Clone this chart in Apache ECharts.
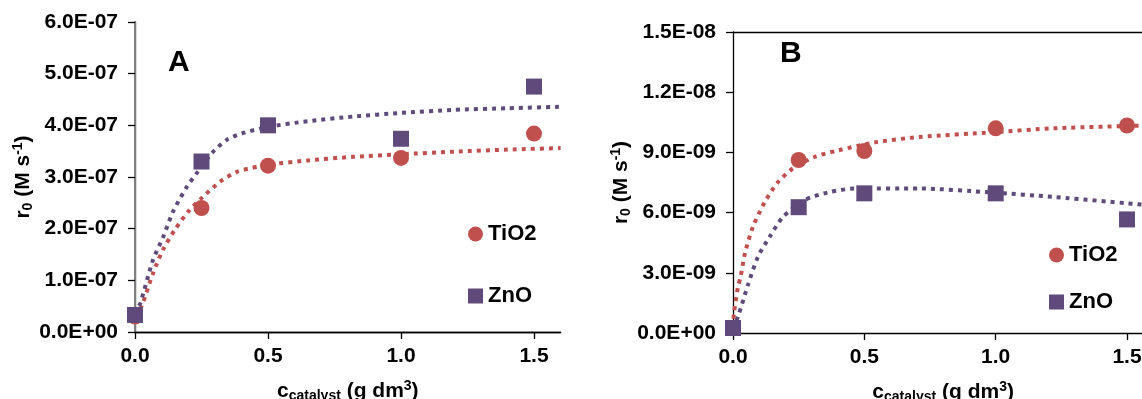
<!DOCTYPE html>
<html>
<head>
<meta charset="utf-8">
<script src="https://cdn.jsdelivr.net/npm/echarts@6/dist/echarts.min.js"></script>
<style>
html,body{margin:0;padding:0;background:#fff;}
#chart{width:1142px;height:399px;}
</style>
</head>
<body>
<div id="chart"></div>
<script>
// ---------- DATA ----------
var seriesNames = ['TiO2', 'ZnO'];
var xTicks = [0, 0.5, 1.0, 1.5];

// Panel A measured points (M s^-1)
var aCat = [0, 0.25, 0.5, 1.0, 1.5];
var aTiO2 = [0.30e-7, 2.40e-7, 3.22e-7, 3.37e-7, 3.84e-7];
var aZnO  = [0.33e-7, 3.30e-7, 4.00e-7, 3.74e-7, 4.75e-7];

// Panel A trend lines
var aFitTiO2X = [0, 0.026, 0.068, 0.105, 0.15, 0.2, 0.252, 0.32, 0.383, 0.46, 0.5, 0.65, 0.82, 1.0, 1.2, 1.4, 1.6];
var aFitTiO2Y = [0.30e-7, 0.52e-7, 1.14e-7, 1.59e-7, 1.98e-7, 2.33e-7, 2.60e-7, 2.91e-7, 3.10e-7, 3.20e-7, 3.24e-7, 3.32e-7, 3.39e-7, 3.44e-7, 3.49e-7, 3.53e-7, 3.56e-7];
var aFitZnOX = [0, 0.02, 0.068, 0.106, 0.143, 0.195, 0.233, 0.29, 0.345, 0.40, 0.5, 0.65, 0.82, 1.0, 1.2, 1.4, 1.6];
var aFitZnOY = [0.35e-7, 0.56e-7, 1.40e-7, 1.84e-7, 2.33e-7, 2.81e-7, 3.08e-7, 3.47e-7, 3.72e-7, 3.84e-7, 3.97e-7, 4.08e-7, 4.17e-7, 4.24e-7, 4.30e-7, 4.33e-7, 4.36e-7];

// Panel B measured points
var bCat = [0, 0.25, 0.5, 1.0, 1.5];
var bTiO2 = [0.25e-9, 8.62e-9, 9.07e-9, 10.2e-9, 10.34e-9];
var bZnO  = [0.25e-9, 6.27e-9, 6.96e-9, 6.96e-9, 5.66e-9];

// Panel B trend lines
var bFitTiO2X = [0, 0.004, 0.019, 0.029, 0.046, 0.076, 0.12, 0.17, 0.228, 0.31, 0.4, 0.54, 0.71, 0.99, 1.22, 1.6];
var bFitTiO2Y = [0.25e-9, 1.0e-9, 2.3e-9, 2.8e-9, 4.0e-9, 5.3e-9, 6.5e-9, 7.5e-9, 8.2e-9, 8.77e-9, 9.1e-9, 9.5e-9, 9.77e-9, 10.0e-9, 10.2e-9, 10.35e-9];
var bFitZnOX = [0, 0.019, 0.057, 0.095, 0.14, 0.19, 0.274, 0.36, 0.464, 0.71, 0.99, 1.22, 1.6];
var bFitZnOY = [0.2e-9, 0.81e-9, 2.4e-9, 3.8e-9, 4.8e-9, 5.78e-9, 6.63e-9, 7.0e-9, 7.2e-9, 7.2e-9, 7.0e-9, 6.78e-9, 6.35e-9];

// Axis scales
var aYMax = 6e-7, aYStep = 1e-7;
var bYMax = 1.5e-8, bYStep = 3e-9;
var xMax = 1.6, xStep = 0.5;

// ---------- STYLE ----------
var FONT = '"Liberation Sans", Arial, sans-serif';
var RED = '#C0504D', PURPLE = '#604A7B';

function pairs(xs, ys){ return xs.map(function(x,i){ return [x, ys[i]]; }); }
function fmtE(v){
  if (Math.abs(v) < 1e-20) return '0.0E+00';
  var s = v.toExponential(1).split('e');
  var e = s[1], sign = e[0], d = e.slice(1);
  if (d.length < 2) d = '0' + d;
  return s[0] + 'E' + sign + d;
}
var axisLineBlack = {show:true, lineStyle:{color:'#000', width:1.3}};
var labelStyle = {color:'#000', fontWeight:'bold', fontSize:21, fontFamily:FONT};
var richName = {
  m:{fontSize:21, fontWeight:'bold', fontFamily:FONT, color:'#000', lineHeight:24},
  sub:{fontSize:14, fontWeight:'bold', fontFamily:FONT, color:'#000', verticalAlign:'bottom', lineHeight:13},
  sup:{fontSize:14, fontWeight:'bold', fontFamily:FONT, color:'#000', verticalAlign:'top', lineHeight:13}
};
var xName = '{m|c}{sub|catalyst}{m| (g dm}{sup|3}{m|)}';
var yName = '{m|r}{sub|0}{m| (M s}{sup|-1}{m|)}';

function bottomX(gridIndex){
  return {
    type:'value', gridIndex:gridIndex, min:0, max:xMax, interval:xStep,
    axisLine:axisLineBlack,
    axisTick:{show:true, length:7, customValues:xTicks, lineStyle:{color:'#000', width:1.3}},
    axisLabel:Object.assign({margin:14, customValues:xTicks, formatter:function(v){ return (+v).toFixed(1); }}, labelStyle),
    splitLine:{show:false},
    name:xName, nameLocation:'middle', nameGap:47,
    nameTextStyle:{rich:richName}
  };
}
function topX(gridIndex){
  return {type:'value', gridIndex:gridIndex, position:'top', min:0, max:xMax,
    axisLine:axisLineBlack, axisTick:{show:false}, axisLabel:{show:false}, splitLine:{show:false}};
}
function leftY(gridIndex, max, step, gap){
  return {
    type:'value', gridIndex:gridIndex, min:0, max:max, interval:step,
    axisLine:axisLineBlack,
    axisTick:{show:true, length:7, lineStyle:{color:'#000', width:1.3}},
    axisLabel:Object.assign({margin:17, formatter:fmtE}, labelStyle),
    splitLine:{show:false},
    name:yName, nameLocation:'middle', nameRotate:90, nameGap:gap,
    nameTextStyle:{rich:richName}
  };
}
function fitLine(name, xs, ys, color, xi, yi){
  return {type:'line', name:name, xAxisIndex:xi, yAxisIndex:yi, data:pairs(xs, ys),
    smooth:0.25, showSymbol:false, symbol:'none', silent:true, z:2,
    lineStyle:{color:color, width:4, type:[4,5], cap:'butt'}};
}
function pts(name, xs, ys, symbol, color, xi, yi, z){
  return {type:'scatter', name:name, xAxisIndex:xi, yAxisIndex:yi, data:pairs(xs, ys),
    symbol:symbol, symbolSize:16, z:z, itemStyle:{color:color, opacity:1}};
}

var chart = echarts.init(document.getElementById('chart'), null, {renderer:'canvas'});
chart.setOption({
  animation:false,
  backgroundColor:'#fff',
  title:[
    {text:'A', left:168, top:48, padding:0, textStyle:{fontSize:30, fontWeight:'bold', fontFamily:FONT, color:'#000'}},
    {text:'B', left:780, top:39, padding:0, textStyle:{fontSize:30, fontWeight:'bold', fontFamily:FONT, color:'#000'}}
  ],
  legend:[
    {left:468, top:223, orient:'vertical', padding:0, itemGap:40, itemWidth:15, itemHeight:15,
     data:[{name:'TiO2', icon:'circle'}, {name:'ZnO', icon:'rect'}],
     textStyle:{fontSize:22, fontWeight:'bold', fontFamily:FONT, color:'#000'}, selectedMode:false},
    {left:1049, top:244, orient:'vertical', padding:0, itemGap:25, itemWidth:15, itemHeight:15,
     data:[{name:'TiO2', icon:'circle'}, {name:'ZnO', icon:'rect'}],
     textStyle:{fontSize:22, fontWeight:'bold', fontFamily:FONT, color:'#000'}, selectedMode:false}
  ],
  grid:[
    {left:135, top:22, width:425.6, height:310, containLabel:false, outerBoundsMode:'none'},
    {left:733, top:32, width:420.3, height:301, containLabel:false, outerBoundsMode:'none'}
  ],
  xAxis:[bottomX(0), topX(0), bottomX(1), topX(1)],
  yAxis:[
    leftY(0, aYMax, aYStep, 99),
    {type:'value', gridIndex:0, position:'right', min:0, max:aYMax,
     axisLine:{show:true, lineStyle:{color:'#7f7f7f', width:2}}, axisTick:{show:false}, axisLabel:{show:false}, splitLine:{show:false}},
    leftY(1, bYMax, bYStep, 98)
  ],
  series:[
    fitLine('TiO2 fit A', aFitTiO2X, aFitTiO2Y, RED, 0, 0),
    fitLine('ZnO fit A', aFitZnOX, aFitZnOY, PURPLE, 0, 0),
    pts('TiO2', aCat, aTiO2, 'circle', RED, 0, 0, 5),
    pts('ZnO', aCat, aZnO, 'rect', PURPLE, 0, 0, 6),
    fitLine('TiO2 fit B', bFitTiO2X, bFitTiO2Y, RED, 2, 2),
    fitLine('ZnO fit B', bFitZnOX, bFitZnOY, PURPLE, 2, 2),
    pts('TiO2', bCat, bTiO2, 'circle', RED, 2, 2, 5),
    pts('ZnO', bCat, bZnO, 'rect', PURPLE, 2, 2, 6)
  ]
});
</script>
</body>
</html>
